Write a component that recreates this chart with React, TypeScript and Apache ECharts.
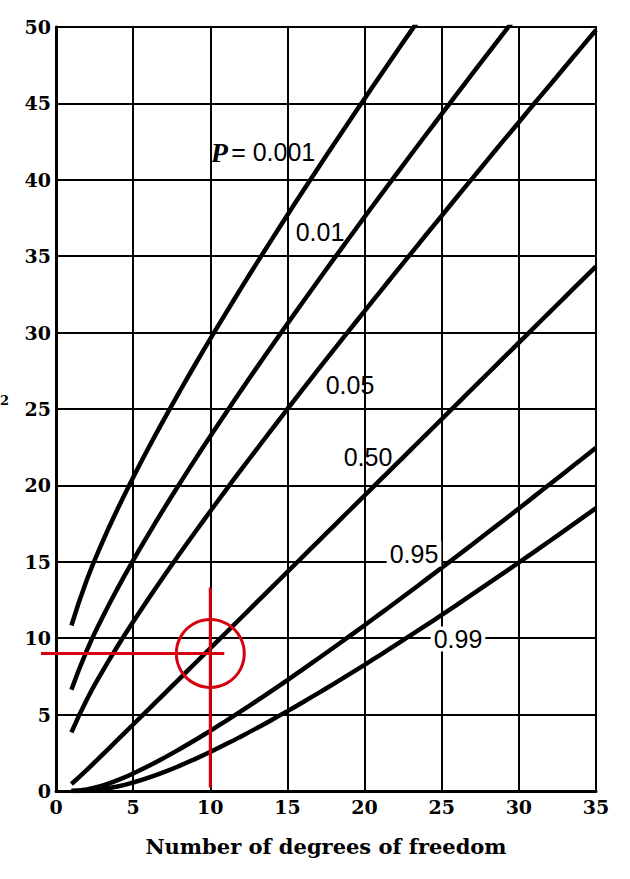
import React, { useEffect, useRef } from "react";
import * as echarts from "echarts";

const DF = [1, 2, 3, 4, 5, 6, 7, 8, 9, 10, 11, 12, 13, 14, 15, 16, 17, 18, 19, 20, 21, 22, 23, 24, 25, 26, 27, 28, 29, 30, 31, 32, 33, 34, 35];

const P_0001 = [10.83, 13.82, 16.27, 18.47, 20.52, 22.46, 24.32, 26.12, 27.88, 29.59, 31.26, 32.91, 34.53, 36.12, 37.7, 39.25, 40.79, 42.31, 43.82, 45.31, 46.8, 48.27, 49.73, 51.18];
const P_001 = [6.63, 9.21, 11.34, 13.28, 15.09, 16.81, 18.48, 20.09, 21.67, 23.21, 24.72, 26.22, 27.69, 29.14, 30.58, 32.0, 33.41, 34.81, 36.19, 37.57, 38.93, 40.29, 41.64, 42.98, 44.31, 45.64, 46.96, 48.28, 49.59, 50.89];
const P_005 = [3.84, 5.99, 7.81, 9.49, 11.07, 12.59, 14.07, 15.51, 16.92, 18.31, 19.68, 21.03, 22.36, 23.68, 25.0, 26.3, 27.59, 28.87, 30.14, 31.41, 32.67, 33.92, 35.17, 36.42, 37.65, 38.89, 40.11, 41.34, 42.56, 43.77, 44.99, 46.19, 47.4, 48.6, 49.8];
const P_050 = [0.455, 1.386, 2.366, 3.357, 4.351, 5.348, 6.346, 7.344, 8.343, 9.342, 10.34, 11.34, 12.34, 13.34, 14.34, 15.34, 16.34, 17.34, 18.34, 19.34, 20.34, 21.34, 22.34, 23.34, 24.34, 25.34, 26.34, 27.34, 28.34, 29.34, 30.34, 31.34, 32.34, 33.34, 34.34];
const P_095 = [0.0039, 0.103, 0.352, 0.711, 1.145, 1.635, 2.167, 2.733, 3.325, 3.94, 4.575, 5.226, 5.892, 6.571, 7.261, 7.962, 8.672, 9.39, 10.117, 10.851, 11.591, 12.338, 13.091, 13.848, 14.611, 15.379, 16.151, 16.928, 17.708, 18.493, 19.281, 20.072, 20.867, 21.664, 22.465];
const P_099 = [0.00016, 0.0201, 0.115, 0.297, 0.554, 0.872, 1.239, 1.646, 2.088, 2.558, 3.053, 3.571, 4.107, 4.66, 5.229, 5.812, 6.408, 7.015, 7.633, 8.26, 8.897, 9.542, 10.196, 10.856, 11.524, 12.198, 12.879, 13.565, 14.256, 14.953, 15.655, 16.362, 17.074, 17.789, 18.509];

const SERIES = [
  { name: "0.001", values: P_0001 },
  { name: "0.01", values: P_001 },
  { name: "0.05", values: P_005 },
  { name: "0.50", values: P_050 },
  { name: "0.95", values: P_095 },
  { name: "0.99", values: P_099 },
];

const X_TITLE = "Number of degrees of freedom";
const MARK_POINT = [10, 9];

export default function App() {
  const ref = useRef<HTMLDivElement>(null);
  useEffect(() => {
    const chart = echarts.init(ref.current!, null, { renderer: "svg" });
    const serif = "'DejaVu Serif', 'Liberation Serif', serif";
    const sans = "'Liberation Sans', Arial, sans-serif";
    chart.setOption({
      animation: false,
      backgroundColor: "#fff",
      grid: { left: 56, right: 34, top: 27, bottom: 88, show: true, borderColor: "#000", borderWidth: 2 },
      xAxis: {
        type: "value",
        min: 0,
        max: 35,
        interval: 5,
        axisLine: { show: true, lineStyle: { color: "#000", width: 3 } },
        axisTick: { show: false },
        splitLine: { show: true, lineStyle: { color: "#000", width: 2 } },
        axisLabel: { color: "#000", fontFamily: serif, fontWeight: "bold", fontSize: 19, margin: 6 },
        name: X_TITLE,
        nameLocation: "middle",
        nameGap: 45,
        nameTextStyle: { color: "#000", fontFamily: serif, fontWeight: "bold", fontSize: 21 },
      },
      yAxis: {
        type: "value",
        min: 0,
        max: 50,
        interval: 5,
        axisLine: { show: true, lineStyle: { color: "#000", width: 3 } },
        axisTick: { show: false },
        splitLine: { show: true, lineStyle: { color: "#000", width: 2 } },
        axisLabel: { color: "#000", fontFamily: serif, fontWeight: "bold", fontSize: 19, margin: 5 },
      },
      series: SERIES.map((s) => ({
        type: "line",
        name: s.name,
        data: s.values.map((v, i) => [DF[i], v]),
        smooth: true,
        symbol: "none",
        clip: true,
        lineStyle: { color: "#000", width: 4.5 },
        z: 5,
      })),
    });

    const c = chart.convertToPixel({ gridIndex: 0 }, MARK_POINT) as number[];
    const red = "#d7000f";
    const lbl = (text: string, x: number, y: number, bg = false) => ({
      type: "text",
      x,
      y,
      z: 20,
      style: {
        text,
        fill: "#000",
        font: `25px ${sans}`,
        align: "center",
        verticalAlign: "middle",
        backgroundColor: bg ? "#fff" : undefined,
        padding: bg ? [0, 3] : 0,
      },
    });
    chart.setOption({
      graphic: [
        {
          type: "text",
          x: 263,
          y: 152,
          z: 20,
          style: {
            text: "{p|P} {n|= 0.001}",
            align: "center",
            verticalAlign: "middle",
            rich: {
              p: { font: `italic bold 28px 'Liberation Serif', serif`, fill: "#000" },
              n: { font: `25px ${sans}`, fill: "#000" },
            },
          },
        },
        lbl("0.01", 320, 232),
        lbl("0.05", 350, 385),
        lbl("0.50", 368, 457),
        lbl("0.95", 414, 554, true),
        lbl("0.99", 458, 639, true),
        {
          type: "text",
          x: 0,
          y: 400,
          style: {
            text: "2",
            align: "left",
            verticalAlign: "middle",
            font: `bold 13px ${serif}`,
            fill: "#000",
          },
        },
        {
          type: "line",
          z: 30,
          shape: { x1: 41, y1: c[1], x2: c[0] + 14, y2: c[1] },
          style: { stroke: red, lineWidth: 3 },
        },
        {
          type: "line",
          z: 30,
          shape: { x1: c[0], y1: c[1] - 66, x2: c[0], y2: c[1] + 134 },
          style: { stroke: red, lineWidth: 3 },
        },
        {
          type: "circle",
          z: 30,
          shape: { cx: c[0], cy: c[1], r: 34 },
          style: { stroke: red, lineWidth: 3, fill: "none" },
        },
      ],
    });
    return () => chart.dispose();
  }, []);
  return (
    <div
      ref={ref}
      style={{ position: "fixed", left: 0, top: 0, width: 630, height: 879, background: "#fff" }}
    />
  );
}
